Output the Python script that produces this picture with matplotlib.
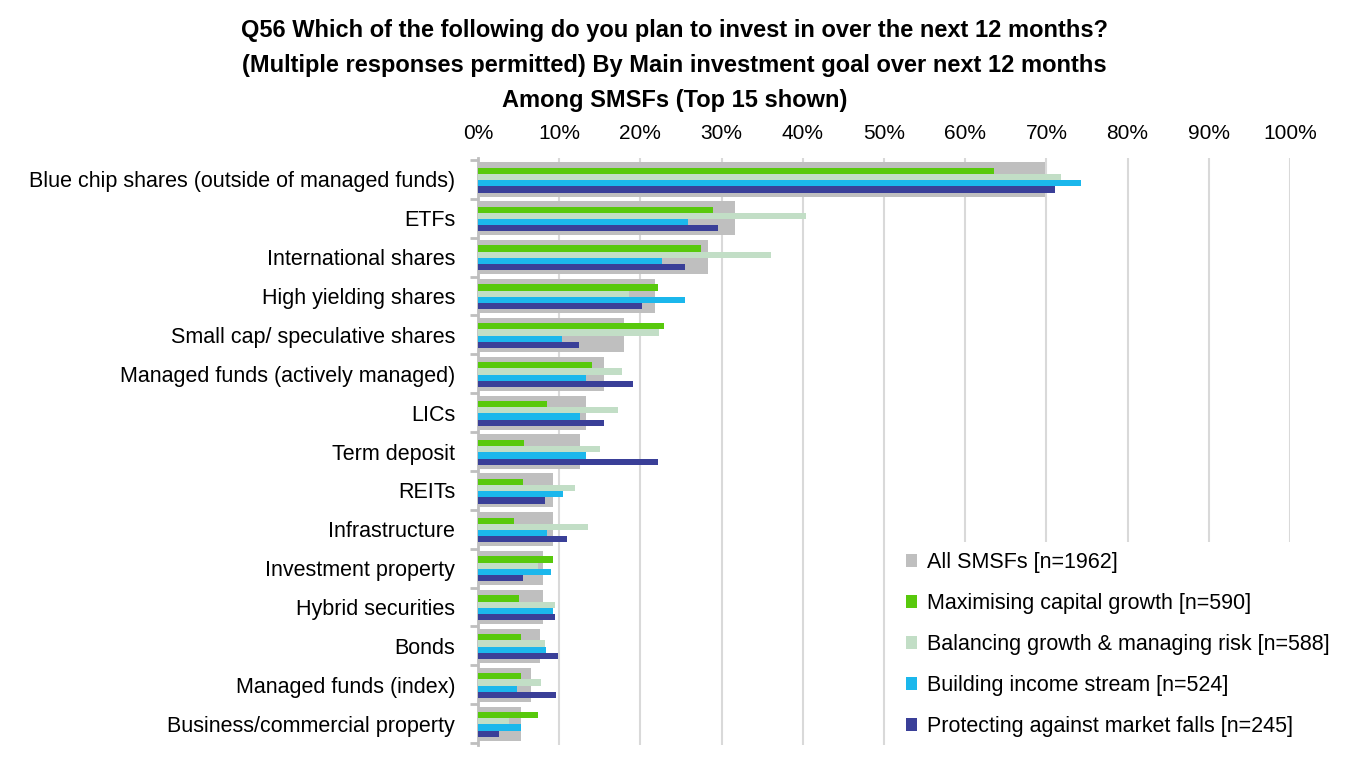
import numpy as np
import matplotlib
matplotlib.use('Agg')
import matplotlib.pyplot as plt

categories = ['Blue chip shares (outside of managed funds)', 'ETFs', 'International shares',
              'High yielding shares', 'Small cap/ speculative shares', 'Managed funds (actively managed)',
              'LICs', 'Term deposit', 'REITs', 'Infrastructure', 'Investment property',
              'Hybrid securities', 'Bonds', 'Managed funds (index)', 'Business/commercial property']

all_smsfs = [69.8, 31.6, 28.3, 21.8, 18.0, 15.5, 13.3, 12.6, 9.3, 9.2, 8.0, 8.0, 7.6, 6.5, 5.3]
capital_growth = [63.5, 29.0, 27.5, 22.2, 22.9, 14.1, 8.5, 5.7, 5.5, 4.4, 9.2, 5.1, 5.3, 5.3, 7.4]
balancing = [71.8, 40.4, 36.1, 18.6, 22.3, 17.7, 17.2, 15.0, 11.9, 13.5, 7.4, 9.5, 8.3, 7.7, 3.8]
income = [74.2, 25.9, 22.7, 25.5, 10.3, 13.3, 12.6, 13.3, 10.5, 8.5, 9.0, 9.2, 8.4, 4.8, 5.3]
protecting = [71.1, 29.6, 25.5, 20.2, 12.4, 19.1, 15.5, 22.2, 8.2, 11.0, 5.5, 9.5, 9.8, 9.6, 2.6]

labels = ['All SMSFs [n=1962]', 'Maximising capital growth [n=590]',
          'Balancing growth & managing risk [n=588]', 'Building income stream [n=524]',
          'Protecting against market falls [n=245]']
colors = ['#BFBFBF', '#58C90C', '#C2DEC6', '#1BB7EC', '#3A3F98']

title_lines = ['Q56 Which of the following do you plan to invest in over the next 12 months?',
               '(Multiple responses permitted) By Main investment goal over next 12 months',
               'Among SMSFs (Top 15 shown)']

plt.rcParams['font.family'] = ['Liberation Sans', 'DejaVu Sans']

fig = plt.figure(figsize=(13.68, 7.66), dpi=100)
ax = fig.add_axes([0.3494, 0.0274, 0.5936, 0.7663])

y = np.arange(len(categories))
ax.barh(y, all_smsfs, height=0.88, color=colors[0], label=labels[0], zorder=2)
h = 0.16
series = [capital_growth, balancing, income, protecting]
for i, vals in enumerate(series):
    off = (i - 1.5) * h + 0.02
    ax.barh(y + off, vals, height=h, color=colors[i + 1], label=labels[i + 1], zorder=3)

ax.set_xlim(0, 100)
ax.set_ylim(14.55, -0.55)
ax.set_xticks(np.arange(0, 101, 10))
ax.set_xticklabels([f'{v}%' for v in range(0, 101, 10)], fontsize=15)
ax.xaxis.tick_top()
ax.tick_params(axis='x', length=0, pad=10.5)
ax.grid(axis='x', color='#D9D9D9', lw=1.5, zorder=0)

ax.set_yticks(y)
ax.set_yticklabels(categories, fontsize=15.5)
ax.tick_params(axis='y', which='major', length=0, pad=16.5)
ax.set_yticks(np.arange(-0.5, 15, 1), minor=True)
ax.tick_params(axis='y', which='minor', length=5.5, width=2, color='#BFBFBF')

for s in ['top', 'right', 'bottom']:
    ax.spines[s].set_visible(False)
ax.spines['left'].set_color('#BFBFBF')
ax.spines['left'].set_linewidth(2)

leg = ax.legend(loc='upper left', bbox_to_anchor=(0.5, 0.365), fontsize=15.5, frameon=True,
                facecolor='white', edgecolor='white', framealpha=1, handlelength=0.55,
                handleheight=0.55, handletextpad=0.45, labelspacing=0.93, borderpad=0.5)
leg.get_frame().set_linewidth(0)

for k, line in enumerate(title_lines):
    fig.text(0.493, 1 - (37 + 35 * k) / 766, line, ha='center', va='baseline',
             fontsize=17, fontweight='bold')

fig.savefig('out.png', dpi=100)
